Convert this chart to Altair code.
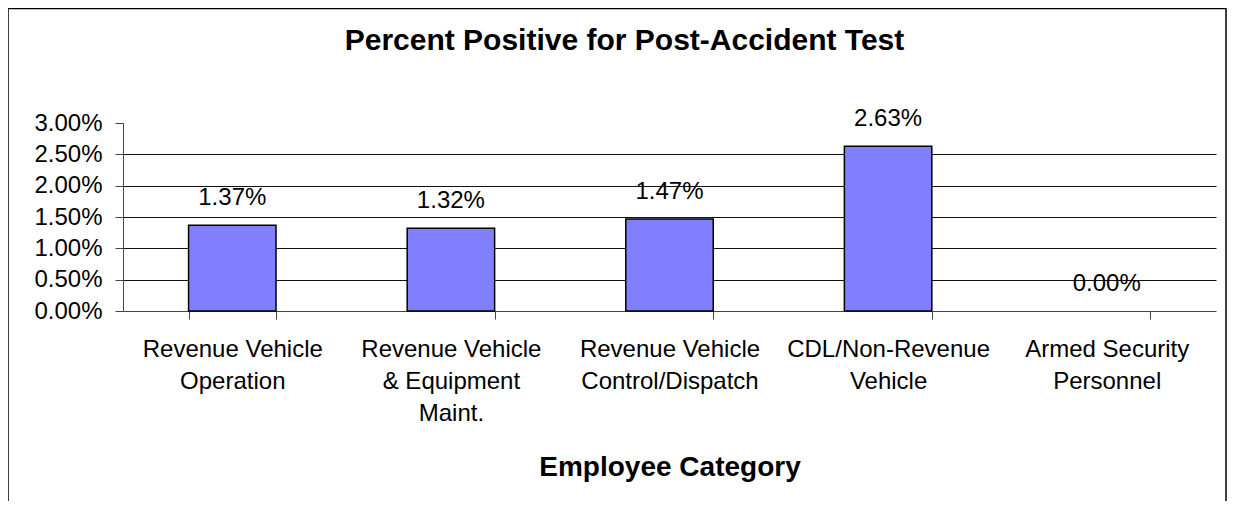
import altair as alt
import pandas as pd

categories = [
    "Revenue Vehicle\nOperation",
    "Revenue Vehicle\n& Equipment\nMaint.",
    "Revenue Vehicle\nControl/Dispatch",
    "CDL/Non-Revenue\nVehicle",
    "Armed Security\nPersonnel",
]
values = [0.0137, 0.0132, 0.0147, 0.0263, 0.0]
y_ticks = [0.0, 0.005, 0.01, 0.015, 0.02, 0.025, 0.03]

df = pd.DataFrame({"category": categories, "value": values})

W, H = 1093, 188
FONT = "Arial, Liberation Sans, sans-serif"

x_enc = alt.X(
    "category:N",
    sort=categories,
    scale=alt.Scale(paddingInner=0.6, paddingOuter=0.3),
    axis=alt.Axis(
        title="Employee Category",
        labelExpr="split(datum.label, '\\n')",
        labelAngle=0,
        labelFontSize=24,
        labelFont=FONT,
        labelLineHeight=32,
        labelBaseline="top",
        labelPadding=18,
        labelLimit=0,
        labelOverlap=False,
        labelColor="black",
        tickSize=8,
        tickBand="extent",
        tickColor="#444",
        domainColor="#444",
        titleFont=FONT,
        titleFontSize=28,
        titleFontWeight="bold",
        titleColor="black",
        titleBaseline="alphabetic",
        titleY=164,
        grid=False,
    ),
)

y_enc = alt.Y(
    "value:Q",
    scale=alt.Scale(domain=[0, 0.03], nice=False),
    axis=alt.Axis(
        title=None,
        values=y_ticks,
        format=".2%",
        labelFontSize=24,
        labelFont=FONT,
        labelColor="black",
        labelPadding=13,
        tickSize=8,
        tickColor="#444",
        domainColor="#444",
        grid=True,
        gridColor="#111",
        gridWidth=1,
        gridOpacity={"condition": {"test": "datum.value > 0.029 || datum.value < 0.001", "value": 0}, "value": 1},
    ),
)

bars = alt.Chart(df).mark_bar(color="#8080FF", stroke="black", strokeWidth=1.5).encode(
    x=x_enc,
    y=y_enc,
    strokeOpacity=alt.condition("datum.value == 0", alt.value(0), alt.value(1)),
)

labels = alt.Chart(df).mark_text(
    dy=-20, baseline="alphabetic", fontSize=24, font=FONT, color="black"
).encode(x=x_enc, y=y_enc, text=alt.Text("value:Q", format=".2%"))

frame = alt.Chart(pd.DataFrame({"f": [0]})).mark_rect(
    fillOpacity=0, stroke="black", strokeWidth=1.5, clip=False
).encode(
    x=alt.value(-115), x2=alt.value(W + 10), y=alt.value(-114.5), y2=alt.value(H + 320)
)

chart = alt.layer(bars, labels, frame).properties(
    width=W,
    height=H,
    title=alt.TitleParams(
        "Percent Positive for Post-Accident Test",
        font=FONT,
        fontSize=30,
        fontWeight="bold",
        color="black",
        anchor="middle",
        offset=-48,
        dx=-45,
    ),
    padding={"left": 115, "top": 115, "right": 11, "bottom": 190},
    autosize=alt.AutoSizeParams(type="none"),
    background="white",
).configure_view(stroke=None)

chart.save("out.html", embed_options={"renderer": "svg", "actions": False})
